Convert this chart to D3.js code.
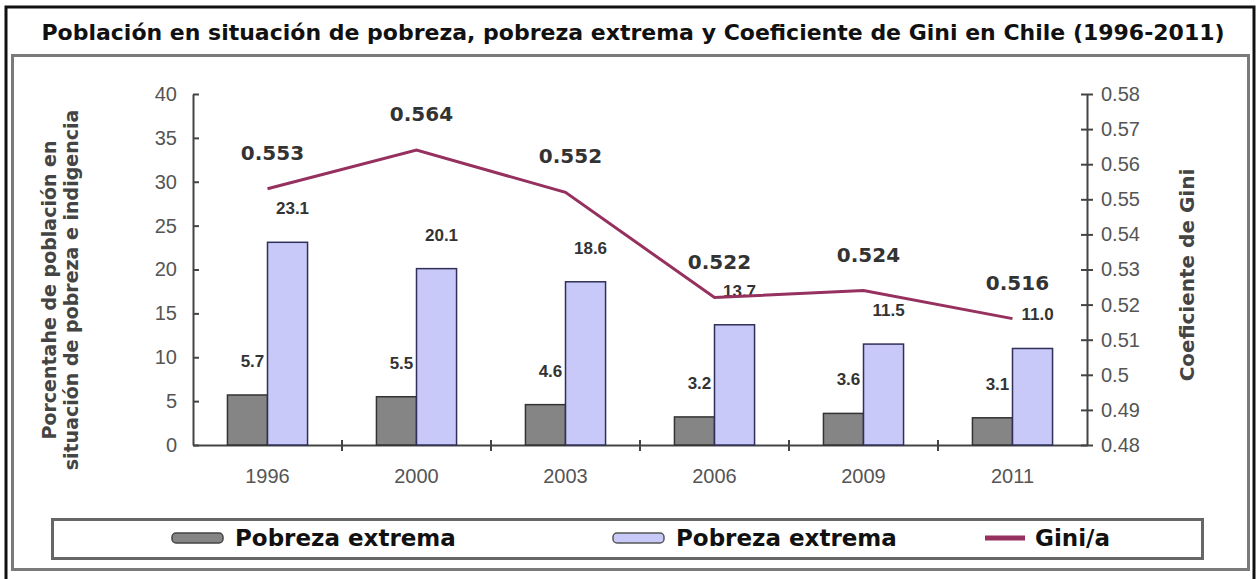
<!DOCTYPE html>
<html>
<head>
<meta charset="utf-8">
<script src="https://cdn.jsdelivr.net/npm/d3@7"></script>
<style>
  body { margin: 0; background: #fff; }
  svg { display: block; }
</style>
</head>
<body>
<div id="maincontent"></div>
<script>
// datos
const years = ["1996", "2000", "2003", "2006", "2009", "2011"];
const pobrezaExtrema = [5.7, 5.5, 4.6, 3.2, 3.6, 3.1];
const pobreza = [23.1, 20.1, 18.6, 13.7, 11.5, 11.0];
const gini = [0.553, 0.564, 0.552, 0.522, 0.524, 0.516];
const leftTicks = [0, 5, 10, 15, 20, 25, 30, 35, 40];
const rightTicks = [0.48, 0.49, 0.5, 0.51, 0.52, 0.53, 0.54, 0.55, 0.56, 0.57, 0.58];
const legendLabels = ["Pobreza extrema", "Pobreza extrema", "Gini/a"];

const width = 1257, height = 579;
const plot = { left: 193, right: 1087, top: 94, bottom: 445 };

const svg = d3.select("#maincontent").append("svg")
    .attr("width", width)
    .attr("height", height);

// marcos
svg.append("rect")
    .attr("x", 6).attr("y", 7)
    .attr("width", 1248).attr("height", 590)
    .attr("fill", "#fff")
    .attr("stroke", "#111")
    .attr("stroke-width", 3);

svg.append("rect")
    .attr("x", 12.5).attr("y", 55.5)
    .attr("width", 1236).attr("height", 514)
    .attr("fill", "none")
    .attr("stroke", "#7a7a7a")
    .attr("stroke-width", 3);

svg.append("text")
    .attr("x", 633).attr("y", 40)
    .attr("text-anchor", "middle")
    .style("font-family", "DejaVu Sans")
    .style("font-weight", "bold")
    .style("font-size", "22px")
    .attr("fill", "#111")
    .text("Población en situación de pobreza, pobreza extrema y Coeficiente de Gini en Chile (1996-2011)");

// escalas
const x = d3.scaleBand()
    .domain(years)
    .range([plot.left, plot.right]);

const xInner = d3.scaleBand()
    .domain(["ext", "pob"])
    .range([0, x.bandwidth()])
    .paddingOuter(0.86);

const yLeft = d3.scaleLinear()
    .domain([0, 40])
    .range([plot.bottom, plot.top]);

const yRight = d3.scaleLinear()
    .domain([0.48, 0.58])
    .range([plot.bottom, plot.top]);

const axisFont = "Liberation Sans, Arial, sans-serif";

// eje izquierdo
const gLeft = svg.append("g")
    .attr("transform", `translate(${plot.left},0)`)
    .call(d3.axisLeft(yLeft).tickValues(leftTicks).tickSize(6).tickPadding(10).tickSizeOuter(0));
gLeft.selectAll(".tick line").attr("x2", 6);

// eje derecho
const gRight = svg.append("g")
    .attr("transform", `translate(${plot.right},0)`)
    .call(d3.axisRight(yRight).tickValues(rightTicks).tickFormat(d => String(d))
        .tickSize(6).tickPadding(8).tickSizeOuter(0));
gRight.selectAll(".tick line").attr("x2", -6).attr("x1", 6);

// eje x
const gX = svg.append("g")
    .attr("transform", `translate(0,${plot.bottom})`)
    .call(d3.axisBottom(x).tickSize(0).tickPadding(24).tickSizeOuter(0));

gX.selectAll(".tick").filter((d, i) => i > 0).append("line")
    .attr("x1", -x.bandwidth() / 2).attr("x2", -x.bandwidth() / 2)
    .attr("y1", -5).attr("y2", 6)
    .attr("stroke", "#444").attr("stroke-width", 2);

[gLeft, gRight, gX].forEach(g => {
    g.select(".domain").attr("stroke", "#444").attr("stroke-width", 2);
    g.selectAll(".tick line").attr("stroke", "#444").attr("stroke-width", 2);
    g.selectAll("text")
        .style("font-family", axisFont)
        .style("font-size", "20px")
        .attr("fill", "#555");
});

// titulos de ejes
const leftTitle = svg.append("text")
    .attr("transform", "translate(56,290) rotate(-90)")
    .attr("text-anchor", "middle")
    .style("font-family", "DejaVu Sans")
    .style("font-weight", "bold")
    .style("font-size", "19px")
    .attr("fill", "#444");
leftTitle.append("tspan").attr("x", 0).attr("dy", 0).text("Porcentahe de población en");
leftTitle.append("tspan").attr("x", 0).attr("dy", 22).text("situación de pobreza e indigencia");

svg.append("text")
    .attr("transform", "translate(1194,275) rotate(-90)")
    .attr("text-anchor", "middle")
    .style("font-family", "DejaVu Sans")
    .style("font-weight", "bold")
    .style("font-size", "20px")
    .attr("fill", "#444")
    .text("Coeficiente de Gini");

// barras
const groups = svg.append("g").selectAll("g")
    .data(years)
    .join("g")
    .attr("transform", d => `translate(${x(d)},0)`);

groups.append("rect")
    .attr("x", xInner("ext"))
    .attr("width", xInner.bandwidth())
    .attr("y", (d, i) => yLeft(pobrezaExtrema[i]))
    .attr("height", (d, i) => plot.bottom - yLeft(pobrezaExtrema[i]))
    .attr("fill", "#858585")
    .attr("stroke", "#333")
    .attr("stroke-width", 1.5);

groups.append("rect")
    .attr("x", xInner("pob"))
    .attr("width", xInner.bandwidth())
    .attr("y", (d, i) => yLeft(pobreza[i]))
    .attr("height", (d, i) => plot.bottom - yLeft(pobreza[i]))
    .attr("fill", "#c9c9f9")
    .attr("stroke", "#2f2f5a")
    .attr("stroke-width", 1.5);

const labelFont = "Liberation Sans, Arial, sans-serif";

groups.append("text")
    .attr("x", xInner("ext") + xInner.bandwidth() / 2 + 5)
    .attr("y", (d, i) => yLeft(pobrezaExtrema[i]) - 28)
    .attr("text-anchor", "middle")
    .style("font-family", labelFont)
    .style("font-weight", "bold")
    .style("font-size", "17px")
    .attr("fill", "#333")
    .text((d, i) => pobrezaExtrema[i].toFixed(1));

groups.append("text")
    .attr("x", xInner("pob") + xInner.bandwidth() / 2 + 5)
    .attr("y", (d, i) => yLeft(pobreza[i]) - 28)
    .attr("text-anchor", "middle")
    .style("font-family", labelFont)
    .style("font-weight", "bold")
    .style("font-size", "17px")
    .attr("fill", "#333")
    .text((d, i) => pobreza[i].toFixed(1));

// linea gini
const line = d3.line()
    .x((d, i) => x(years[i]) + x.bandwidth() / 2)
    .y(d => yRight(d));

svg.append("path")
    .datum(gini)
    .attr("d", line)
    .attr("fill", "none")
    .attr("stroke", "#96305e")
    .attr("stroke-width", 3);

svg.append("g").selectAll("text")
    .data(gini)
    .join("text")
    .attr("x", (d, i) => x(years[i]) + x.bandwidth() / 2 + 5)
    .attr("y", d => yRight(d) - 29)
    .attr("text-anchor", "middle")
    .style("font-family", "DejaVu Sans")
    .style("font-weight", "bold")
    .style("font-size", "20px")
    .attr("fill", "#333")
    .text(d => d.toFixed(3));

// leyenda
svg.append("rect")
    .attr("x", 52.5).attr("y", 519.5)
    .attr("width", 1150).attr("height", 39)
    .attr("fill", "#fff")
    .attr("stroke", "#666")
    .attr("stroke-width", 3);

const legendX = [172, 613, 985];
const legend = svg.append("g").selectAll("g")
    .data(legendLabels)
    .join("g")
    .attr("transform", (d, i) => `translate(${legendX[i]},538)`);

legend.filter((d, i) => i < 2).append("rect")
    .attr("x", 0).attr("y", -5)
    .attr("width", 51).attr("height", 10)
    .attr("rx", 4)
    .attr("fill", (d, i) => i === 0 ? "#858585" : "#c9c9f9")
    .attr("stroke", (d, i) => i === 0 ? "#444" : "#555")
    .attr("stroke-width", 1.5);

legend.filter((d, i) => i === 2).append("line")
    .attr("x1", 0).attr("x2", 40)
    .attr("stroke", "#96305e")
    .attr("stroke-width", 5);

legend.append("text")
    .attr("x", (d, i) => i === 2 ? 50 : 63)
    .attr("y", 8)
    .style("font-family", "DejaVu Sans")
    .style("font-weight", "bold")
    .style("font-size", "23px")
    .attr("fill", "#111")
    .text(d => d);
</script>
</body>
</html>
